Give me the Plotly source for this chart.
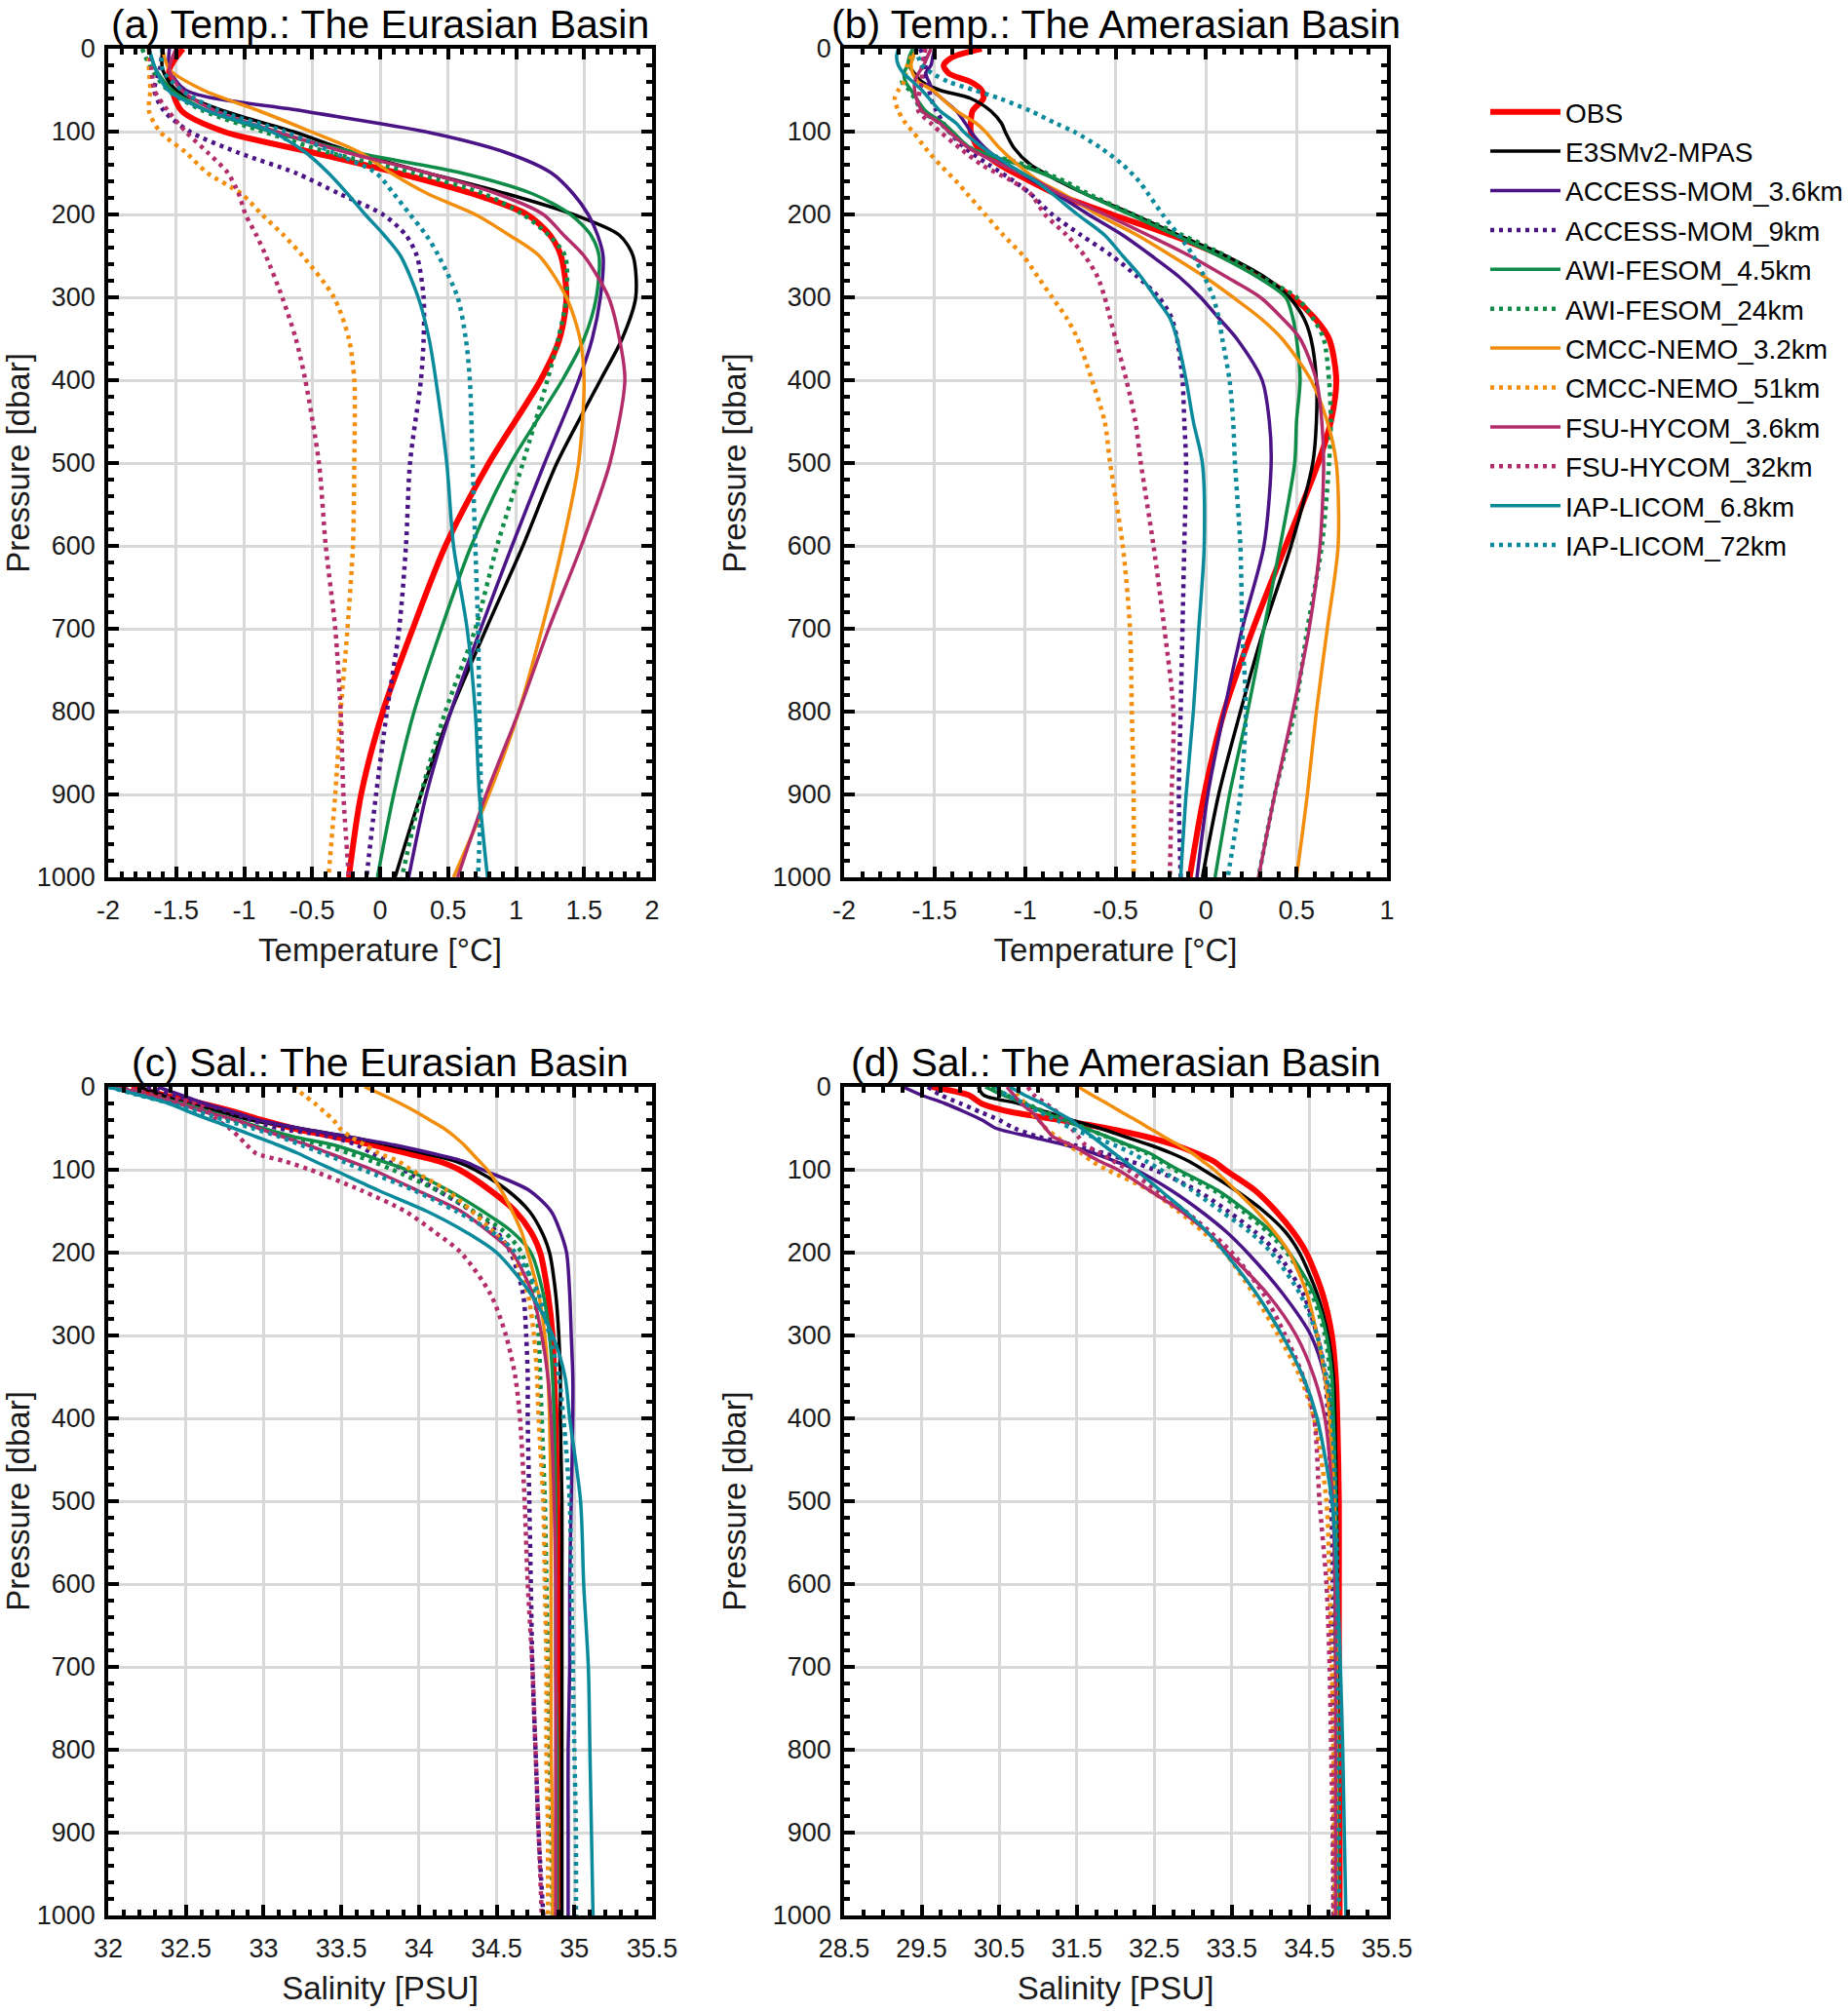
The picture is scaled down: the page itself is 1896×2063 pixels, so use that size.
import plotly.graph_objects as go

W, H = 1896, 2063

MODELS = ["OBS", "E3SMv2-MPAS", "ACCESS-MOM_3.6km", "ACCESS-MOM_9km",
          "AWI-FESOM_4.5km", "AWI-FESOM_24km", "CMCC-NEMO_3.2km", "CMCC-NEMO_51km",
          "FSU-HYCOM_3.6km", "FSU-HYCOM_32km", "IAP-LICOM_6.8km", "IAP-LICOM_72km"]

# pressure levels (dbar) the profiles were read at
PRES_A = [0, 25, 50, 75, 100, 125, 150, 175, 200, 225, 250, 300, 350, 400, 500, 600, 700, 800, 900, 1000]
PRES_B = [0, 10, 20, 30, 40, 50, 60, 75, 90, 100, 120, 140, 160, 175, 200, 225, 250, 275, 300, 325,
          350, 400, 450, 500, 600, 700, 800, 900, 1000]
PRES_S = [0, 10, 20, 30, 40, 50, 60, 70, 80, 90, 100, 125, 150, 175, 200, 250, 300, 350, 400, 500,
          600, 700, 800, 900, 1000]

# (a) temperature, Eurasian Basin, on PRES_A
TEMP_EB = {
    "OBS":              [-1.45, -1.55, -1.53, -1.46, -1.15, -0.50, 0.13, 0.68, 1.08, 1.25, 1.33, 1.37, 1.32, 1.18, 0.80, 0.48, 0.24, 0.02, -0.14, -0.23],
    "E3SMv2-MPAS":      [-1.60, -1.60, -1.50, -1.15, -0.64, -0.20, 0.35, 0.93, 1.42, 1.76, 1.86, 1.88, 1.78, 1.62, 1.30, 1.05, 0.78, 0.52, 0.30, 0.11],
    "ACCESS-MOM_3.6km": [-1.55, -1.55, -1.43, -0.57, 0.33, 0.92, 1.26, 1.42, 1.53, 1.60, 1.64, 1.62, 1.56, 1.46, 1.21, 0.97, 0.74, 0.52, 0.34, 0.21],
    "ACCESS-MOM_9km":   [-1.60, -1.62, -1.66, -1.59, -1.40, -1.05, -0.62, -0.30, 0.02, 0.19, 0.27, 0.32, 0.32, 0.30, 0.22, 0.19, 0.14, 0.05, -0.03, -0.10],
    "AWI-FESOM_4.5km":  [-1.70, -1.65, -1.53, -1.27, -0.80, -0.19, 0.60, 1.12, 1.40, 1.55, 1.61, 1.59, 1.50, 1.34, 0.96, 0.67, 0.45, 0.25, 0.10, -0.02],
    "AWI-FESOM_24km":   [-1.75, -1.68, -1.56, -1.30, -0.86, -0.38, 0.25, 0.76, 1.05, 1.24, 1.36, 1.37, 1.31, 1.23, 1.05, 0.86, 0.70, 0.48, 0.30, 0.16],
    "CMCC-NEMO_3.2km":  [-1.60, -1.55, -1.30, -0.89, -0.51, -0.15, 0.08, 0.35, 0.70, 0.95, 1.17, 1.37, 1.47, 1.50, 1.46, 1.34, 1.19, 1.02, 0.80, 0.54],
    "CMCC-NEMO_51km":   [-1.70, -1.70, -1.69, -1.70, -1.62, -1.43, -1.27, -1.02, -0.87, -0.71, -0.57, -0.34, -0.23, -0.19, -0.19, -0.20, -0.24, -0.29, -0.33, -0.38],
    "FSU-HYCOM_3.6km":  [-1.50, -1.55, -1.46, -1.21, -0.76, -0.25, 0.35, 0.86, 1.20, 1.35, 1.50, 1.68, 1.76, 1.80, 1.69, 1.48, 1.24, 1.02, 0.78, 0.57],
    "FSU-HYCOM_32km":   [-1.70, -1.68, -1.66, -1.56, -1.43, -1.27, -1.12, -1.04, -0.99, -0.91, -0.84, -0.72, -0.62, -0.55, -0.45, -0.40, -0.33, -0.29, -0.27, -0.23],
    "IAP-LICOM_6.8km":  [-1.70, -1.65, -1.56, -1.27, -0.80, -0.55, -0.38, -0.24, -0.11, 0.03, 0.15, 0.28, 0.36, 0.41, 0.49, 0.54, 0.64, 0.70, 0.73, 0.79],
    "IAP-LICOM_72km":   [-1.60, -1.60, -1.46, -1.18, -0.70, -0.35, -0.03, 0.10, 0.22, 0.34, 0.43, 0.57, 0.63, 0.66, 0.68, 0.70, 0.72, 0.73, 0.74, 0.72],
}

# (b) temperature, Amerasian Basin, on PRES_B
TEMP_AB = {
    "OBS":              [-1.24, -1.40, -1.45, -1.42, -1.30, -1.24, -1.23, -1.29, -1.30, -1.30, -1.26, -1.14, -0.97, -0.83, -0.52, -0.19, 0.09, 0.30, 0.48, 0.60, 0.68, 0.72, 0.69, 0.62, 0.44, 0.26, 0.10, -0.01, -0.09],
    "E3SMv2-MPAS":      [-1.61, -1.62, -1.64, -1.61, -1.57, -1.47, -1.30, -1.19, -1.13, -1.11, -1.06, -0.97, -0.81, -0.67, -0.40, -0.15, 0.11, 0.32, 0.46, 0.54, 0.58, 0.61, 0.61, 0.59, 0.47, 0.32, 0.19, 0.07, -0.02],
    "ACCESS-MOM_3.6km": [-1.50, -1.51, -1.52, -1.55, -1.53, -1.51, -1.46, -1.38, -1.33, -1.30, -1.22, -1.10, -0.95, -0.83, -0.65, -0.46, -0.30, -0.15, -0.03, 0.07, 0.17, 0.31, 0.35, 0.36, 0.32, 0.20, 0.10, 0.01, -0.05],
    "ACCESS-MOM_9km":   [-1.58, -1.56, -1.55, -1.55, -1.54, -1.53, -1.52, -1.49, -1.45, -1.42, -1.33, -1.20, -1.06, -0.97, -0.85, -0.69, -0.52, -0.38, -0.26, -0.19, -0.16, -0.13, -0.12, -0.11, -0.12, -0.13, -0.14, -0.15, -0.14],
    "AWI-FESOM_4.5km":  [-1.62, -1.64, -1.65, -1.67, -1.66, -1.63, -1.60, -1.55, -1.45, -1.40, -1.30, -1.03, -0.80, -0.67, -0.42, -0.17, 0.07, 0.28, 0.44, 0.48, 0.50, 0.52, 0.50, 0.49, 0.41, 0.32, 0.23, 0.13, 0.05],
    "AWI-FESOM_24km":   [-1.60, -1.62, -1.64, -1.66, -1.68, -1.64, -1.61, -1.57, -1.47, -1.42, -1.30, -1.00, -0.78, -0.65, -0.40, -0.13, 0.11, 0.30, 0.50, 0.59, 0.65, 0.68, 0.69, 0.68, 0.64, 0.56, 0.49, 0.38, 0.29],
    "CMCC-NEMO_3.2km":  [-1.60, -1.62, -1.63, -1.62, -1.59, -1.51, -1.46, -1.38, -1.27, -1.22, -1.14, -1.04, -0.92, -0.79, -0.60, -0.38, -0.19, -0.01, 0.15, 0.30, 0.42, 0.58, 0.67, 0.72, 0.73, 0.67, 0.61, 0.56, 0.50],
    "CMCC-NEMO_51km":   [-1.60, -1.63, -1.65, -1.66, -1.67, -1.70, -1.72, -1.70, -1.66, -1.62, -1.55, -1.47, -1.38, -1.32, -1.22, -1.12, -1.01, -0.93, -0.85, -0.77, -0.71, -0.63, -0.56, -0.53, -0.46, -0.42, -0.41, -0.40, -0.40],
    "FSU-HYCOM_3.6km":  [-1.52, -1.54, -1.56, -1.59, -1.61, -1.61, -1.60, -1.57, -1.47, -1.42, -1.31, -1.13, -0.93, -0.81, -0.56, -0.32, -0.09, 0.11, 0.30, 0.42, 0.52, 0.61, 0.64, 0.65, 0.63, 0.57, 0.48, 0.38, 0.29],
    "FSU-HYCOM_32km":   [-1.55, -1.56, -1.57, -1.57, -1.57, -1.58, -1.59, -1.59, -1.52, -1.47, -1.36, -1.24, -1.07, -0.97, -0.89, -0.77, -0.67, -0.60, -0.56, -0.53, -0.50, -0.44, -0.39, -0.36, -0.29, -0.23, -0.18, -0.19, -0.20],
    "IAP-LICOM_6.8km":  [-1.70, -1.71, -1.70, -1.67, -1.62, -1.57, -1.53, -1.47, -1.38, -1.34, -1.23, -1.09, -0.94, -0.85, -0.71, -0.56, -0.46, -0.36, -0.28, -0.20, -0.16, -0.11, -0.07, -0.02, -0.01, -0.04, -0.07, -0.11, -0.14],
    "IAP-LICOM_72km":   [-1.61, -1.59, -1.57, -1.51, -1.42, -1.28, -1.14, -0.97, -0.83, -0.73, -0.58, -0.46, -0.37, -0.32, -0.24, -0.15, -0.07, -0.01, 0.04, 0.07, 0.09, 0.13, 0.15, 0.16, 0.19, 0.20, 0.22, 0.19, 0.12],
}

# (c) salinity, Eurasian Basin, on PRES_S
SAL_EB = {
    "OBS":              [32.15, 32.36, 32.60, 32.81, 32.99, 33.19, 33.45, 33.70, 33.92, 34.13, 34.26, 34.46, 34.62, 34.72, 34.78, 34.83, 34.86, 34.87, 34.88, 34.89, 34.90, 34.90, 34.91, 34.91, 34.91],
    "E3SMv2-MPAS":      [32.20, 32.35, 32.50, 32.72, 32.92, 33.23, 33.54, 33.80, 34.03, 34.24, 34.36, 34.57, 34.71, 34.79, 34.84, 34.88, 34.90, 34.91, 34.91, 34.92, 34.92, 34.92, 34.92, 34.92, 34.92],
    "ACCESS-MOM_3.6km": [32.32, 32.47, 32.62, 32.80, 32.97, 33.23, 33.54, 33.84, 34.08, 34.29, 34.41, 34.71, 34.85, 34.91, 34.95, 34.97, 34.98, 34.99, 34.99, 34.98, 34.97, 34.97, 34.96, 34.96, 34.96],
    "ACCESS-MOM_9km":   [32.25, 32.42, 32.60, 32.78, 32.92, 33.10, 33.43, 33.60, 33.70, 33.80, 33.90, 34.12, 34.34, 34.50, 34.59, 34.67, 34.69, 34.70, 34.70, 34.71, 34.72, 34.73, 34.75, 34.77, 34.80],
    "AWI-FESOM_4.5km":  [32.05, 32.25, 32.48, 32.65, 32.83, 33.00, 33.19, 33.45, 33.62, 33.77, 33.92, 34.19, 34.41, 34.60, 34.72, 34.80, 34.84, 34.86, 34.87, 34.88, 34.88, 34.88, 34.89, 34.89, 34.89],
    "AWI-FESOM_24km":   [32.05, 32.25, 32.45, 32.63, 32.80, 32.97, 33.15, 33.38, 33.55, 33.70, 33.83, 34.12, 34.35, 34.55, 34.66, 34.74, 34.77, 34.78, 34.79, 34.81, 34.82, 34.83, 34.84, 34.85, 34.86],
    "CMCC-NEMO_3.2km":  [33.65, 33.77, 33.88, 33.98, 34.07, 34.16, 34.23, 34.29, 34.34, 34.39, 34.44, 34.53, 34.60, 34.66, 34.70, 34.77, 34.81, 34.83, 34.84, 34.85, 34.85, 34.85, 34.85, 34.86, 34.86],
    "CMCC-NEMO_51km":   [33.19, 33.26, 33.33, 33.39, 33.45, 33.49, 33.56, 33.65, 33.74, 33.87, 33.95, 34.18, 34.34, 34.48, 34.60, 34.70, 34.74, 34.76, 34.77, 34.80, 34.81, 34.82, 34.82, 34.83, 34.83],
    "FSU-HYCOM_3.6km":  [32.05, 32.25, 32.45, 32.62, 32.82, 32.97, 33.12, 33.28, 33.42, 33.56, 33.70, 33.99, 34.27, 34.45, 34.60, 34.73, 34.79, 34.83, 34.85, 34.87, 34.88, 34.88, 34.88, 34.88, 34.88],
    "FSU-HYCOM_32km":   [32.10, 32.30, 32.55, 32.65, 32.70, 32.78, 32.84, 32.89, 32.95, 33.14, 33.30, 33.63, 33.91, 34.10, 34.27, 34.46, 34.56, 34.62, 34.65, 34.68, 34.70, 34.73, 34.75, 34.77, 34.79],
    "IAP-LICOM_6.8km":  [32.00, 32.20, 32.39, 32.52, 32.66, 32.81, 32.95, 33.09, 33.22, 33.33, 33.45, 33.74, 34.05, 34.30, 34.50, 34.72, 34.86, 34.94, 34.97, 35.04, 35.06, 35.09, 35.10, 35.11, 35.12],
    "IAP-LICOM_72km":   [32.00, 32.20, 32.40, 32.58, 32.75, 32.93, 33.10, 33.24, 33.38, 33.51, 33.64, 33.97, 34.24, 34.47, 34.62, 34.77, 34.84, 34.90, 34.93, 34.97, 34.98, 34.99, 35.00, 35.01, 35.01],
}

# (d) salinity, Amerasian Basin, on PRES_S
SAL_AB = {
    "OBS":              [29.63, 30.11, 30.27, 30.64, 31.29, 31.89, 32.39, 32.76, 33.04, 33.27, 33.41, 33.80, 34.07, 34.29, 34.46, 34.67, 34.79, 34.84, 34.86, 34.88, 34.88, 34.88, 34.88, 34.89, 34.89],
    "E3SMv2-MPAS":      [30.23, 30.30, 30.75, 31.10, 31.43, 31.80, 32.12, 32.44, 32.72, 32.95, 33.13, 33.55, 33.91, 34.19, 34.37, 34.60, 34.74, 34.81, 34.83, 34.85, 34.86, 34.86, 34.86, 34.86, 34.86],
    "ACCESS-MOM_3.6km": [29.26, 29.50, 29.80, 30.05, 30.28, 30.46, 30.90, 31.35, 31.72, 32.00, 32.26, 32.72, 33.10, 33.43, 33.70, 34.16, 34.52, 34.70, 34.78, 34.82, 34.83, 34.84, 34.84, 34.84, 34.84],
    "ACCESS-MOM_9km":   [29.58, 29.75, 30.00, 30.25, 30.50, 30.70, 31.00, 31.45, 31.85, 32.20, 32.50, 33.05, 33.45, 33.80, 34.08, 34.42, 34.60, 34.70, 34.74, 34.78, 34.80, 34.80, 34.81, 34.81, 34.81],
    "AWI-FESOM_4.5km":  [30.32, 30.55, 30.83, 31.06, 31.33, 31.61, 31.89, 32.16, 32.44, 32.62, 32.81, 33.32, 33.69, 34.01, 34.24, 34.56, 34.72, 34.79, 34.81, 34.84, 34.85, 34.85, 34.86, 34.86, 34.86],
    "AWI-FESOM_24km":   [30.40, 30.60, 30.85, 31.08, 31.35, 31.62, 31.88, 32.14, 32.40, 32.58, 32.76, 33.27, 33.64, 33.96, 34.21, 34.53, 34.70, 34.77, 34.79, 34.82, 34.83, 34.84, 34.84, 34.84, 34.85],
    "CMCC-NEMO_3.2km":  [31.52, 31.70, 31.89, 32.07, 32.26, 32.44, 32.62, 32.81, 32.99, 33.13, 33.27, 33.55, 33.82, 34.05, 34.24, 34.47, 34.60, 34.70, 34.76, 34.82, 34.84, 34.85, 34.85, 34.85, 34.85],
    "CMCC-NEMO_51km":   [30.64, 30.74, 30.83, 30.90, 31.01, 31.10, 31.24, 31.38, 31.56, 31.70, 31.89, 32.44, 32.81, 33.13, 33.41, 33.78, 34.10, 34.38, 34.56, 34.72, 34.76, 34.79, 34.81, 34.82, 34.83],
    "FSU-HYCOM_3.6km":  [30.60, 30.69, 30.78, 30.92, 31.01, 31.10, 31.19, 31.43, 31.61, 31.80, 32.03, 32.44, 32.85, 33.18, 33.45, 33.96, 34.33, 34.56, 34.70, 34.80, 34.83, 34.84, 34.84, 34.84, 34.84],
    "FSU-HYCOM_32km":   [30.87, 30.95, 31.10, 31.24, 31.33, 31.43, 31.52, 31.61, 31.80, 31.98, 32.16, 32.53, 32.90, 33.22, 33.50, 33.91, 34.19, 34.42, 34.56, 34.63, 34.72, 34.76, 34.78, 34.80, 34.81],
    "IAP-LICOM_6.8km":  [30.64, 30.83, 31.06, 31.24, 31.43, 31.56, 31.70, 31.84, 31.98, 32.12, 32.26, 32.58, 32.90, 33.18, 33.41, 33.82, 34.15, 34.42, 34.60, 34.79, 34.86, 34.90, 34.93, 34.95, 34.97],
    "IAP-LICOM_72km":   [30.46, 30.60, 30.83, 31.01, 31.24, 31.43, 31.70, 31.98, 32.21, 32.40, 32.58, 32.99, 33.36, 33.73, 34.01, 34.38, 34.60, 34.72, 34.79, 34.84, 34.86, 34.87, 34.88, 34.88, 34.88],
}

TICKS_TA = [-2, -1.5, -1, -0.5, 0, 0.5, 1, 1.5, 2]
TICKS_TB = [-2, -1.5, -1, -0.5, 0, 0.5, 1]
TICKS_SC = [32, 32.5, 33, 33.5, 34, 34.5, 35, 35.5]
TICKS_SD = [28.5, 29.5, 30.5, 31.5, 32.5, 33.5, 34.5, 35.5]
TICKS_P = [0, 100, 200, 300, 400, 500, 600, 700, 800, 900, 1000]

FAMILY_COLORS = {"OBS": "#ff0000", "E3SMv2": "#000000", "ACCESS": "#4a1486",
                 "AWI": "#0f8c48", "CMCC": "#f28e0c", "FSU": "#b32d6b", "IAP": "#0b8a9c"}
COARSE = ("_9km", "_24km", "_51km", "_32km", "_72km")

FONT = "Liberation Sans, Arial, sans-serif"
TXT = "#1a1a1a"


def style(name):
    color = FAMILY_COLORS[name.split("-")[0]]
    if name == "OBS":
        return dict(color=color, width=6)
    if name.endswith(COARSE):
        return dict(color=color, width=4.5, dash="4px,5px")
    return dict(color=color, width=3.5)


def px_x(v):
    return v / W


def px_y(v):
    return 1 - v / H


panels = [
    # axis suffix, data, pressures, x ticks, x minor, title, x title, x domain px, y domain px
    ("", TEMP_EB, PRES_A, TICKS_TA, 0.1, "(a) Temp.: The Eurasian Basin", "Temperature [°C]", (111, 669), (50, 900)),
    ("2", TEMP_AB, PRES_B, TICKS_TB, 0.1, "(b) Temp.: The Amerasian Basin", "Temperature [°C]", (866, 1423), (50, 900)),
    ("3", SAL_EB, PRES_S, TICKS_SC, 0.1, "(c) Sal.: The Eurasian Basin", "Salinity [PSU]", (111, 669), (1115, 1965)),
    ("4", SAL_AB, PRES_S, TICKS_SD, 0.25, "(d) Sal.: The Amerasian Basin", "Salinity [PSU]", (866, 1423), (1115, 1965)),
]

fig = go.Figure()
annotations = []
layout = {}

for k, (sfx, data, pres, xt, xminor, title, xtitle, xd, yd) in enumerate(panels):
    for name in MODELS:
        fig.add_trace(go.Scatter(
            x=data[name], y=pres, name=name, mode="lines",
            line=dict(shape="spline", smoothing=0.8, **style(name)),
            legendgroup=name, showlegend=(k == 0),
            xaxis="x" + sfx, yaxis="y" + sfx,
        ))

    common = dict(
        showline=True, linecolor="black", linewidth=3.5, mirror="allticks",
        ticks="inside", ticklen=11, tickwidth=3.5, tickcolor="black",
        showgrid=True, gridcolor="#d9d9d9", gridwidth=3, zeroline=False,
        automargin=False,
        tickfont=dict(family=FONT, size=27, color=TXT),
    )
    layout["xaxis" + sfx] = dict(
        common, domain=[px_x(xd[0]), px_x(xd[1])], anchor="y" + sfx,
        range=[xt[0], xt[-1]], tickmode="array", tickvals=xt,
        ticktext=[f"{v:g}" for v in xt], ticklabelstandoff=7,
        minor=dict(tick0=xt[0], dtick=xminor, ticks="inside", ticklen=6,
                   tickwidth=3.5, tickcolor="black", showgrid=False),
        title=dict(text=xtitle, standoff=16, font=dict(family=FONT, size=33, color=TXT)),
    )
    layout["yaxis" + sfx] = dict(
        common, domain=[px_y(yd[1]), px_y(yd[0])], anchor="x" + sfx,
        range=[1000, 0], tickmode="array", tickvals=TICKS_P,
        ticktext=[str(v) for v in TICKS_P], ticklabelstandoff=4,
        minor=dict(tick0=0, dtick=20, ticks="inside", ticklen=6,
                   tickwidth=3.5, tickcolor="black", showgrid=False),
        title=dict(text="Pressure [dbar]", standoff=18, font=dict(family=FONT, size=33, color=TXT)),
    )
    annotations.append(dict(
        text=title, xref="paper", yref="paper",
        x=px_x((xd[0] + xd[1]) / 2), y=px_y(yd[0] - 25),
        xanchor="center", yanchor="middle", showarrow=False,
        font=dict(family=FONT, size=41, color="black"),
    ))

fig.update_layout(
    width=W, height=H,
    margin=dict(l=0, r=0, t=0, b=0),
    paper_bgcolor="white", plot_bgcolor="white",
    font=dict(family=FONT, color=TXT),
    annotations=annotations,
    legend=dict(
        x=px_x(1524), y=px_y(90), xanchor="left", yanchor="top",
        font=dict(family=FONT, size=28, color="black"),
        tracegroupgap=1, bgcolor="rgba(0,0,0,0)", itemwidth=72,
    ),
    **layout,
)

# drop the page's default body margin so the figure sits at the window corner
fig.write_html("out.html", config={"displayModeBar": False},
               post_script="document.body.style.margin='0px';")
